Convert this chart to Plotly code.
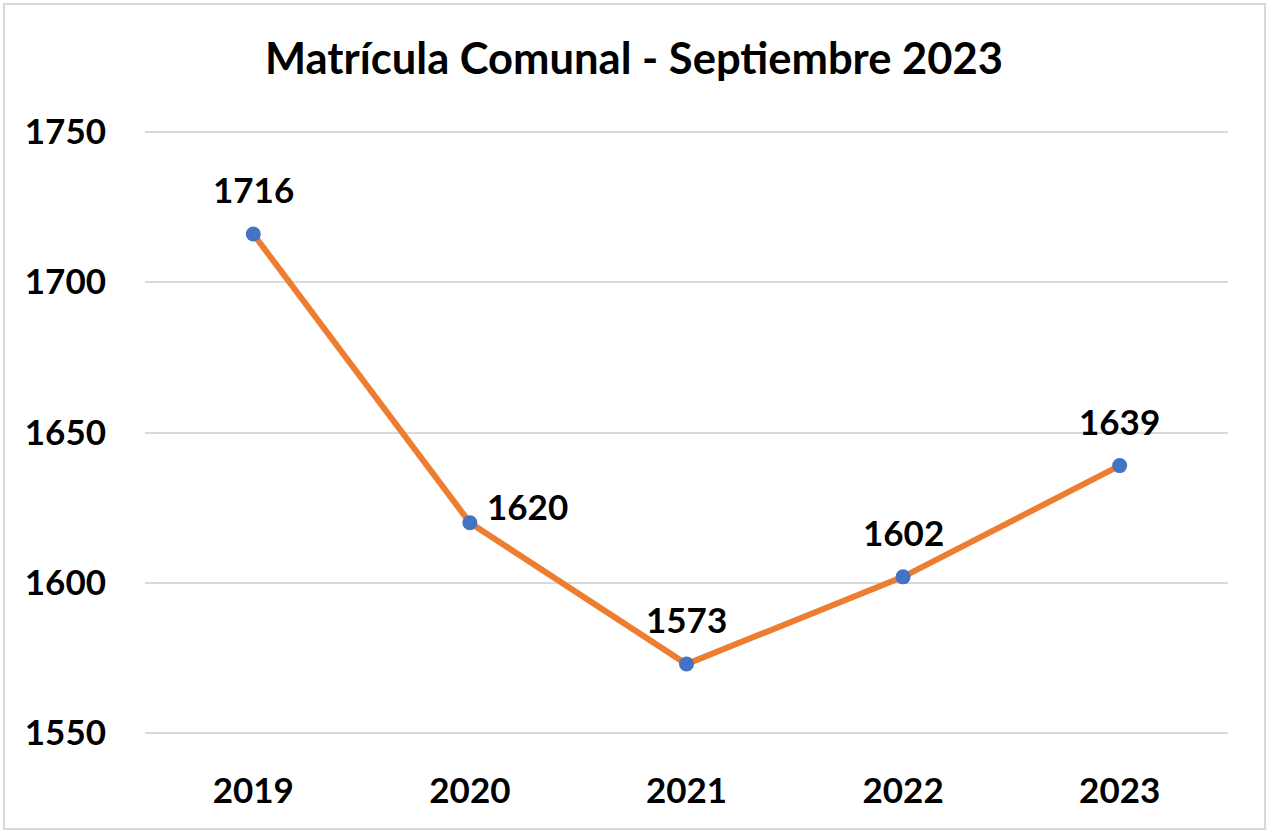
import plotly.graph_objects as go

years = ["2019", "2020", "2021", "2022", "2023"]
matricula = [1716, 1620, 1573, 1602, 1639]
label_pos = ["above", "right", "above", "above", "above"]

FONT = "Lato"

fig = go.Figure()
fig.add_trace(go.Scatter(
    x=years, y=matricula, mode="lines+markers",
    line=dict(color="#ED7D31", width=6),
    marker=dict(color="#4472C4", size=15),
    hoverinfo="x+y", showlegend=False,
))

for i, (y, p) in enumerate(zip(matricula, label_pos)):
    if p == "above":
        xs, ys = 0, 45
    else:
        xs, ys = 58, 17
    fig.add_annotation(x=i, y=y, xref="x", yref="y", text=f"<b>{y}</b>",
                       showarrow=False, xshift=xs, yshift=ys,
                       font=dict(family=FONT, size=35, color="#000000"))

# outer chart border
fig.add_shape(type="rect", xref="paper", yref="paper",
              x0=-0.1302, x1=1.0342, y0=-0.1554, y1=1.2083,
              line=dict(color="#d9d9d9", width=2), layer="below")

fig.update_layout(
    width=1268, height=832,
    margin=dict(l=145, r=40, t=130, b=97),
    paper_bgcolor="white", plot_bgcolor="white",
    title=dict(text="<b>Matrícula Comunal - Septiembre 2023</b>",
               x=0.5, xanchor="center", y=0.929, yanchor="middle",
               font=dict(family=FONT, size=43.5, color="#000000")),
    font=dict(family=FONT, color="#000000"),
    xaxis=dict(type="category", range=[-0.5, 4.5], showgrid=False,
               showline=False, zeroline=False,
               tickfont=dict(family=FONT, size=35, color="#000000"),
               ticklabelstandoff=32,
               tickprefix="<b>", ticksuffix="</b>"),
    yaxis=dict(range=[1549.4, 1750.6], dtick=50, showgrid=True,
               gridcolor="#d9d9d9", gridwidth=2, zeroline=False,
               showline=False,
               tickfont=dict(family=FONT, size=35, color="#000000"),
               ticklabelstandoff=38,
               tickprefix="<b>", ticksuffix="</b>"),
)

fig.write_html("out.html", config={"displayModeBar": False},
               post_script="document.body.style.margin='0';document.body.style.overflow='hidden';")
